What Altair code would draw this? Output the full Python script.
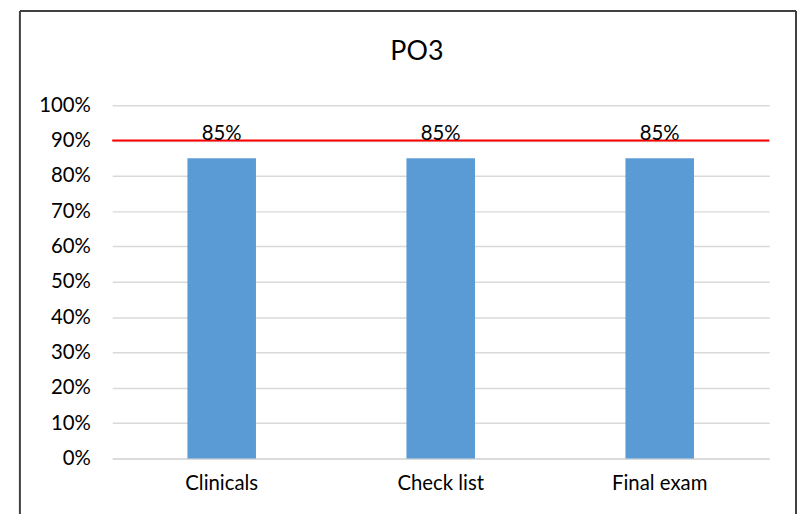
import altair as alt
import pandas as pd

categories = ["Clinicals", "Check list", "Final exam"]
values = [0.85, 0.85, 0.85]
target = [0.90]
title_text = "PO3"
ticks = [0.0, 0.1, 0.2, 0.3, 0.4, 0.5, 0.6, 0.7, 0.8, 0.9, 1.0]

df = pd.DataFrame({"cat": categories, "val": values})
tdf = pd.DataFrame({"t": target})

FONT = "Lato"
FS = 20.5

x_scale = alt.Scale(paddingInner=0.687, paddingOuter=0.3435)
y_scale = alt.Scale(domain=[0, 1], nice=False)

x_axis = alt.Axis(labelAngle=0, labelFontSize=FS, labelFont=FONT, labelColor="#000000",
                  ticks=False, domain=True, domainColor="#d9d9d9", domainWidth=1.5,
                  labelPadding=15, grid=False)
y_axis = alt.Axis(format=".0%", values=ticks, labelFontSize=FS,
                  labelFont=FONT, labelColor="#000000", ticks=False, domain=False,
                  labelOverlap=False, labelPadding=22, grid=True, gridColor="#d9d9d9",
                  gridWidth=1.5)

bars = alt.Chart(df).mark_bar(color="#5b9bd5").encode(
    x=alt.X("cat:N", sort=categories, title=None, scale=x_scale, axis=x_axis),
    y=alt.Y("val:Q", title=None, scale=y_scale, axis=y_axis))
labels = alt.Chart(df).mark_text(fontSize=FS, font=FONT, color="#000000", baseline="alphabetic", dy=-18).encode(
    x=alt.X("cat:N", sort=categories, title=None, scale=x_scale, axis=x_axis),
    y=alt.Y("val:Q", title=None, scale=y_scale, axis=y_axis),
    text=alt.Text("val:Q", format=".0%"))
rule = alt.Chart(tdf).mark_rule(color="#ff0000", strokeWidth=2).encode(
    y=alt.Y("t:Q", title=None, scale=y_scale, axis=y_axis))

title = alt.Chart(tdf).mark_text(text=title_text, fontSize=27, font=FONT, color="#000000", baseline="middle").encode(
    x=alt.value(307), y=alt.value(-54))

border_l = alt.Chart(tdf).mark_rule(color="#404040", strokeWidth=2).encode(
    x=alt.value(-93), y=alt.value(-95), y2=alt.value(420))
border_t = alt.Chart(tdf).mark_rule(color="#404040", strokeWidth=2).encode(
    x=alt.value(-93), x2=alt.value(689), y=alt.value(-95))
border_r = alt.Chart(tdf).mark_rule(color="#404040", strokeWidth=2).encode(
    x=alt.value(689), y=alt.value(-95), y2=alt.value(420))

chart = alt.layer(bars, rule, labels, title, border_l, border_t, border_r).properties(
    width=662, height=356,
    autosize=alt.AutoSizeParams(type="none"),
    padding={"left": 105, "top": 96, "right": 28, "bottom": 54},
    background="#ffffff",
).configure_view(stroke=None)

chart.save("out.html", embed_options={"renderer": "svg", "actions": False})
